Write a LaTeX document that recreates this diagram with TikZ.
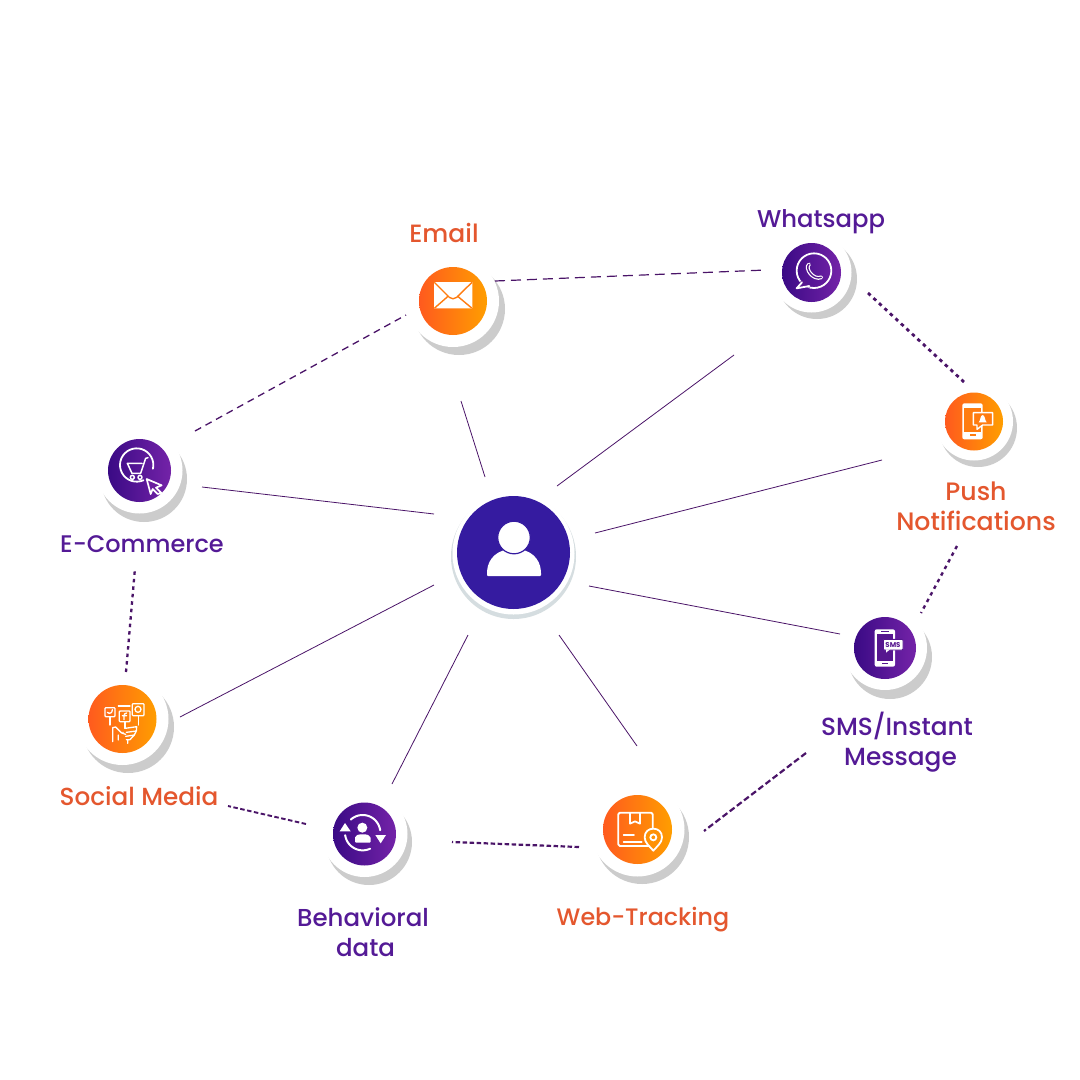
\documentclass[tikz,border=0pt]{standalone}
\usepackage{fontspec}
\setmainfont{Poppins}[UprightFont=* Medium,BoldFont=* Bold]
\definecolor{linep}{HTML}{4A1468}
\definecolor{txto}{HTML}{E4572E}
\definecolor{txtp}{HTML}{541A96}
\definecolor{oL}{HTML}{FF5A1E}
\definecolor{oR}{HTML}{FF9E00}
\definecolor{oM}{HTML}{FF7C10}
\definecolor{pL}{HTML}{3A0A85}
\definecolor{pR}{HTML}{7423A8}
\definecolor{pM}{HTML}{56168F}
\definecolor{core}{HTML}{351BA0}
\definecolor{shad}{HTML}{CCCCCC}
\definecolor{hubshad}{HTML}{D5DDE0}
\tikzset{
  shadowdisk/.style={circle,fill=shad,inner sep=0pt,outer sep=0pt},
  ringdisk/.style={circle,fill=white,inner sep=0pt,outer sep=0pt},
  orangedisk/.style={circle,left color=oL,right color=oR,inner sep=0pt,outer sep=0pt},
  purpledisk/.style={circle,left color=pL,right color=pR,inner sep=0pt,outer sep=0pt},
  lab/.style={align=center,inner sep=0pt},
  labo/.style={lab,text=txto},
  labp/.style={lab,text=txtp},
  solidlink/.style={draw=linep,line width=0.8pt},
  longdash/.style={draw=linep,line width=1.3pt,dash pattern=on 7pt off 5pt},
  densedot/.style={draw=linep,line width=2.8pt,dash pattern=on 3.5pt off 4pt},
  densedash/.style={draw=linep,line width=2.2pt,dash pattern=on 4.5pt off 2.5pt},
  ic/.style={white,line width=1.8pt,line join=round,line cap=round},
  icthin/.style={white,line width=1.3pt,line join=round,line cap=round},
  zoomed/.style={x=0.33333pt,y=-0.33333pt},
}
\newcommand{\badge}[8]{%
  \node[shadowdisk,minimum size={#7*2pt}] (#1-shadow) at (#5,#6) {};
  \node[ringdisk,minimum size={#7*2pt}] (#1-ring) at (#2,#3) {};
  \node[#8,minimum size={#4*2pt}] (#1) at (#2,#3) {};
}
\newcommand{\arcpts}[5]{plot[domain=#4:#5,samples=30,smooth] ({#1+#3*cos(\x)},{#2+#3*sin(\x)})}
\newcommand{\fs}[1]{\fontsize{#1}{30}\selectfont}
\begin{document}
\begin{tikzpicture}[x=1pt,y=-1pt]
\useasboundingbox (0,0) rectangle (1080,1080);
\fill[white] (0,0) rectangle (1080,1080);

% centre
\node[circle,fill=hubshad,inner sep=0pt,minimum size=125pt] (hub-shadow) at (513.5,556.5) {};
\node[ringdisk,minimum size=122pt] (hub-ring) at (513.5,553.5) {};
\node[circle,fill=core,inner sep=0pt,minimum size=113pt] (hub) at (513.5,552.5) {};
\fill[white,rounded corners=1pt] (487,576) -- (487,572) .. controls (488,558) and (498,549) .. (514,549) .. controls (530,549) and (540,558) .. (541,572) -- (541,576) -- cycle;
\fill[white,draw=core,line width=1.2pt] (514,537.5) circle (16.3);

% badges
\badge{email}{453}{301}{34}{459}{309}{46}{orangedisk}
\badge{whatsapp}{811.5}{272.5}{29.5}{817}{279}{40}{purpledisk}
\badge{push}{974}{421.5}{29}{978}{428}{39}{orangedisk}
\badge{sms}{885}{648}{31}{890}{657}{42}{purpledisk}
\badge{web}{637.5}{829.5}{34.5}{642}{837}{47}{orangedisk}
\badge{behav}{364.5}{834}{31.5}{369}{842}{43}{purpledisk}
\badge{social}{122.5}{719}{34}{128}{727}{46}{orangedisk}
\badge{ecom}{139.5}{470.5}{31.5}{144}{479}{43}{purpledisk}

% email icon
\begin{scope}[shift={(400,210)},zoomed]
\fill[white,rounded corners=0.5pt] (102,216) rectangle (217,295);
\draw[oM,line width=1.4pt,line join=round] (103,217) -- (148,262) .. controls (155,268) and (163,268) .. (170,262) -- (216,217);
\draw[oM,line width=1.4pt] (104,294) -- (145,258) (215,294) -- (172,258);
\end{scope}

% whatsapp icon
\begin{scope}[shift={(760,200)},zoomed]
\draw[ic] (162,212) circle (52);
\fill[pM] (120,245) -- (110,265) -- (150,262) -- (135,240) -- cycle;
\draw[ic] (126,247) -- (110,265) -- (148,258);
\draw[white,line width=1.2pt,double=pM,double distance=1.4pt,line cap=round] (147,193) .. controls (133,205) and (160,242) .. (184,232);
\end{scope}

% push icon
\begin{scope}[shift={(930,380)},zoomed]
\fill[white,rounded corners=2pt] (97,70) rectangle (158,178);
\fill[oM] (103,84) rectangle (152,157);
\fill[oM] (120,163) rectangle (138,168);
\draw[white,fill=oM,line width=1.4pt,line join=round] (130,98) -- (188,98) -- (188,135) -- (158,135) -- (141,148) -- (141,135) -- (130,135) -- cycle;
\fill[white] (146,127) .. controls (152,122) and (150,106) .. (158,105) .. controls (166,106) and (164,122) .. (170,127) -- cycle;
\end{scope}

% sms icon
\begin{scope}[shift={(840,600)},zoomed]
\fill[white,rounded corners=2pt] (104,88) rectangle (165,200);
\fill[pM] (110,101) rectangle (159,182);
\fill[pM] (122,93) rectangle (147,96);
\fill[pM] (125,188) rectangle (144,193);
\draw[pM,fill=white,line width=0.9pt,rounded corners=1pt] (130,118) rectangle (189,150);
\fill[white] (138,148) -- (138,158) -- (150,148) -- cycle;
\node[text=pM,inner sep=0pt,font=\fontsize{7}{8}\selectfont\bfseries] (sms-text) at (159,134) {SMS};
\end{scope}

% web icon
\begin{scope}[shift={(590,780)},zoomed]
\draw[ic,rounded corners=1.5pt] (85,98) rectangle (188,198);
\draw[ic] (120,98) -- (120,131) -- (135,124) -- (150,131) -- (150,98);
\draw[ic] (101,166) -- (132,166) (101,186) -- (155,186);
\draw[white,fill=oM!35!oR,line width=1.8pt,line join=round] (190,212) .. controls (178,198) and (164,188) .. (164,172) .. controls (164,155) and (176,146) .. (190,146) .. controls (204,146) and (216,155) .. (216,172) .. controls (216,188) and (202,198) .. (190,212) -- cycle;
\draw[white,line width=1.8pt] (190,172) circle (9);
\end{scope}

% behavioural icon
\begin{scope}[shift={(320,790)},zoomed]
\draw[ic,line width=2pt] \arcpts{128}{128}{53}{228}{352};
\draw[ic,line width=2pt] \arcpts{128}{128}{53}{172}{65};
\fill[white] (75,99) -- (92,124) -- (59,124) -- cycle;
\fill[white] (182,160) -- (166,135) -- (198,135) -- cycle;
\fill[white] (127,113) circle (15);
\fill[white,rounded corners=1pt] (105,158) -- (105,145) .. controls (106,136) and (114,133) .. (128,133) .. controls (142,133) and (150,136) .. (152,145) -- (152,158) -- cycle;
\end{scope}

% social icon
\begin{scope}[shift={(75,675)},zoomed]
\draw[icthin,rounded corners=0.8pt] (90,98) rectangle (120,125);
\draw[icthin] (97,112) .. controls (104,118) and (112,114) .. (112,104);
\draw[icthin,rounded corners=0.8pt] (133,108) rectangle (165,140);
\draw[icthin] (155,114) .. controls (148,112) and (147,118) .. (147,134) (142,122) -- (155,122);
\draw[icthin,rounded corners=0.8pt] (172,86) rectangle (207,122);
\draw[icthin] (189,103) circle (9);
\draw[icthin] (130,93) -- (165,93);
\draw[icthin] (105,125) -- (105,150) (150,140) -- (150,160) (190,122) -- (190,150);
\draw[icthin] (113,200) -- (113,158) -- (122,156) -- (140,174) -- (152,178) (130,195) -- (130,180);
\draw[icthin] (150,160) -- (185,155) -- (184,168) -- (154,172) (184,168) -- (178,180) -- (152,184) (178,180) -- (165,194) -- (154,194) (158,194) -- (158,205);
\fill[white] (144,172) circle (2.5);
\end{scope}

% ecommerce icon
\begin{scope}[shift={(95,430)},zoomed]
\draw[ic] \arcpts{125}{105}{50}{66}{373};
\draw[icthin,line width=1.5pt] (97,100) -- (141,100) (97,100) -- (111,130) -- (137,130) -- (152,85) -- (159,83);
\draw[icthin,line width=1.5pt] (112,142) circle (6) (135,142) circle (6);
\draw[white,fill=pR!70!pM,line width=1.7pt,line join=round] (155,147) -- (200,166) -- (183,173) -- (199,189) -- (188,192) -- (173,177) -- (167,192) -- cycle;
\end{scope}

% named free ends
\coordinate (h1) at (485,477); \coordinate (e1) at (461,401);
\coordinate (h2) at (557,486); \coordinate (w1) at (734,355);
\coordinate (h3) at (595,533); \coordinate (p1) at (882,460);
\coordinate (h4) at (589,586); \coordinate (s1) at (840,634);
\coordinate (h5) at (559,635); \coordinate (t1) at (637,746);
\coordinate (h6) at (468,635); \coordinate (b1) at (392,784);
\coordinate (h7) at (434,585); \coordinate (m1) at (180,717);
\coordinate (h8) at (434,514); \coordinate (c1) at (202,487);

\draw[solidlink] (h1) -- (e1);
\draw[solidlink] (h2) -- (w1);
\draw[solidlink] (h3) -- (p1);
\draw[solidlink] (h4) -- (s1);
\draw[solidlink] (h5) -- (t1);
\draw[solidlink] (h6) -- (b1);
\draw[solidlink] (h7) -- (m1);
\draw[solidlink] (h8) -- (c1);

\coordinate (c2) at (195,431); \coordinate (e2) at (406,315);
\coordinate (e3) at (495,281); \coordinate (w2) at (766,270);
\coordinate (w3) at (868,293); \coordinate (p2) at (964,382);
\coordinate (p3) at (957,546); \coordinate (s2) at (921,613);
\coordinate (s3) at (806,753); \coordinate (t2) at (704,831);
\coordinate (t3) at (579,847); \coordinate (b2) at (452,842);
\coordinate (b3) at (306,824); \coordinate (m2) at (228,806);
\coordinate (m3) at (126,672); \coordinate (c3) at (135,568);

\draw[longdash] (c2) -- (e2);
\draw[longdash,line width=1.2pt,dash pattern=on 10pt off 6pt] (e3) -- (w2);
\draw[densedot] (w3) -- (p2);
\draw[densedot,line width=2.4pt] (p3) -- (s2);
\draw[densedash,dash pattern=on 6pt off 3pt] (s3) -- (t2);
\draw[densedash] (t3) -- (b2);
\draw[densedash,line width=1.9pt] (b3) -- (m2);
\draw[densedot,line width=2.3pt] (m3) -- (c3);

% labels
\node[labo,font=\fs{25}] (email-label) at (444,233) {Email};
\node[labp,font=\fs{24.3}] (whatsapp-label) at (821,222) {Whatsapp};
\node[labo,font=\fs{25.2}] (push-label) at (976,506) {Push\hspace{7pt}\\Notifications};
\node[labp,font=\fs{24.8}] (sms-label) at (897,742) {SMS/Instant\\\hspace{7pt}Message};
\node[labo,font=\fs{23.8}] (web-label) at (643,920) {Web-Tracking};
\node[labp,font=\fs{24.5}] (behav-label) at (363,932) {Behavioral\\\hspace{5pt}data};
\node[labo,font=\fs{24.7}] (social-label) at (139,796) {Social Media};
\node[labp,font=\fs{24}] (ecom-label) at (142,544) {E-Commerce};
\end{tikzpicture}
\end{document}
